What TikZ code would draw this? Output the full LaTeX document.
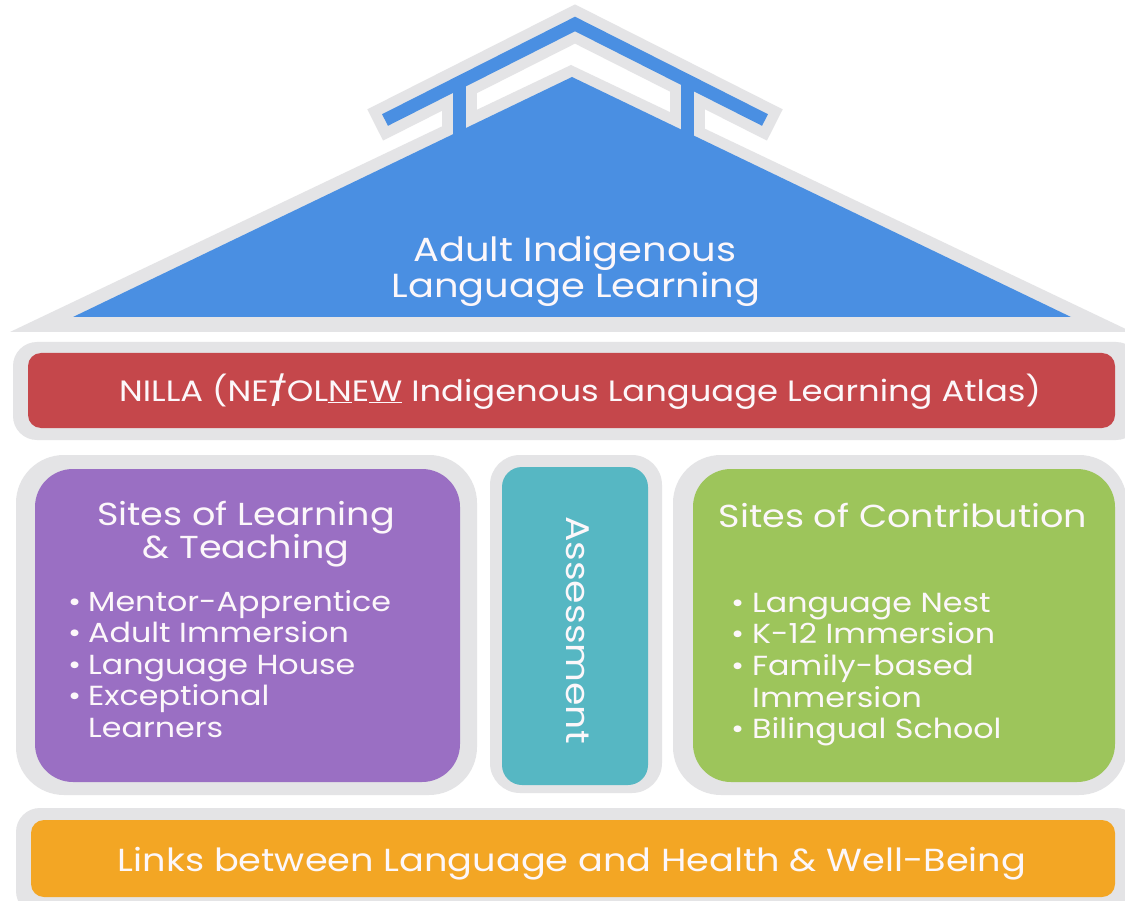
\documentclass[tikz,border=0pt]{standalone}
\usepackage{fontspec}
\setmainfont{Poppins}[FakeStretch=1.15]
\definecolor{roofblue}{HTML}{4A8FE2}
\definecolor{framegray}{HTML}{E4E4E6}
\definecolor{nillared}{HTML}{C5474B}
\definecolor{sitepurple}{HTML}{9A6FC3}
\definecolor{assessteal}{HTML}{56B7C3}
\definecolor{sitegreen}{HTML}{9DC55B}
\definecolor{linkorange}{HTML}{F3A624}
\definecolor{lighttext}{HTML}{FCF7FA}
\newcommand\tslash{\ooalign{T\cr\hidewidth/\hidewidth\cr}}
\begin{document}
\begin{tikzpicture}[x=1pt,y=-1pt,
  txt/.style={inner sep=0pt, text=lighttext},
  roofline/.style={line width=13pt, roofblue, line join=miter},
  halo/.style={line width=35pt, framegray, line join=miter},
  roofsz/.style={font=\fontsize{33.4}{36}\selectfont},
  barsz/.style={font=\fontsize{29.4}{32}\selectfont},
  linksz/.style={font=\fontsize{31.9}{34}\selectfont},
  titlesz/.style={font=\fontsize{31.8}{33}\selectfont},
  itemsz/.style={font=\fontsize{27.6}{31}\selectfont},
  assesssz/.style={font=\fontsize{32.8}{35}\selectfont},
]
\useasboundingbox (0,0) rectangle (1125,901);
\clip (0,0) rectangle (1125,901);
\fill[white] (0,0) rectangle (1125,901);

% roof
\fill[framegray] (10,332) -- (571,65) -- (1132,332) -- cycle;
\draw[halo, shorten <=-11pt, shorten >=-11pt] (385,120) -- (575,24) -- (765,120);
\draw[halo] (459,88) -- (459,135);
\draw[halo] (687,88) -- (687,135);
\fill[roofblue] (73,317) -- (572,77) -- (1071,317) -- cycle;
\draw[roofline] (385,120) -- (575,24) -- (765,120);
\draw[roofline] (459,82) -- (459,140);
\draw[roofline] (687,82) -- (687,140);
\node[txt, roofsz, anchor=base] (roof1) at (575,262) {Adult Indigenous};
\node[txt, roofsz, anchor=base] (roof2) at (576,298) {Language Learning};

% NILLA bar
\fill[framegray, rounded corners=24pt] (13,342) rectangle (1140,440);
\fill[nillared, rounded corners=13pt] (28,353) rectangle (1115,428);
\node[txt, barsz, anchor=base] (nilla) at (580,401)
  {NILLA (NE\tslash OL\underline{N}E\underline{W} Indigenous Language Learning Atlas)};

% middle row frames
\fill[framegray, rounded corners=48pt] (16,455) rectangle (477,795);
\fill[sitepurple, rounded corners=38pt] (35,469) rectangle (460,782);
\fill[framegray, rounded corners=30pt] (490,455) rectangle (662,793);
\fill[assessteal, rounded corners=20pt] (502,467) rectangle (648,785);
\fill[framegray, rounded corners=48pt] (673,455) rectangle (1127,795);
\fill[sitegreen, rounded corners=38pt] (693,469) rectangle (1115,782);

% left box text
\node[txt, titlesz, anchor=base] (lt1) at (246,525) {Sites of Learning};
\node[txt, titlesz, anchor=base] (lt2) at (246,558) {\& Teaching};
\foreach \t [count=\i] in {Mentor-Apprentice, Adult Immersion, Language House, Exceptional}{
  \node[txt, itemsz, anchor=base west] (lb\i) at (68,{611+31.5*(\i-1)}) {\textbullet};
  \node[txt, itemsz, anchor=base west] (li\i) at (88,{611+31.5*(\i-1)}) {\t};
}
\node[txt, itemsz, anchor=base west] (li5) at (88,737) {Learners};

% assessment
\node[txt, assesssz, rotate=-90] (assess) at (578,630) {Assessment};

% right box text
\node[txt, titlesz, anchor=base] (rt1) at (903,527) {Sites of Contribution};
\foreach \t [count=\i] in {Language Nest, K-12 Immersion, Family-based}{
  \node[txt, itemsz, anchor=base west] (rb\i) at (731,{612+31.5*(\i-1)}) {\textbullet};
  \node[txt, itemsz, anchor=base west] (ri\i) at (752,{612+31.5*(\i-1)}) {\t};
}
\node[txt, itemsz, anchor=base west] (ri4) at (752,707) {Immersion};
\node[txt, itemsz, anchor=base west] (rb5) at (731,738) {\textbullet};
\node[txt, itemsz, anchor=base west] (ri5) at (752,738) {Bilingual School};

% bottom bar
\fill[framegray, rounded corners=24pt] (16,808) rectangle (1140,915);
\fill[linkorange, rounded corners=13pt] (31,820) rectangle (1115,897);
\node[txt, linksz, anchor=base] (links) at (572,871)
  {Links between Language and Health \& Well-Being};
\end{tikzpicture}
\end{document}
